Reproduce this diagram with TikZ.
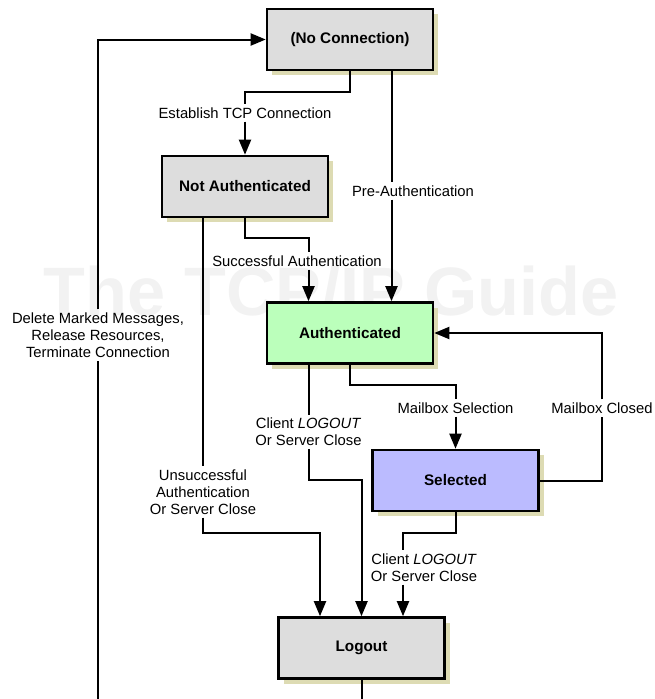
\documentclass[tikz,border=0pt]{standalone}
\usepackage{fontspec}
\setmainfont{Liberation Sans}
\usetikzlibrary{arrows.meta,shadows}
\definecolor{shc}{RGB}{221,219,179}
\definecolor{boxgray}{RGB}{221,221,221}
\definecolor{boxgreen}{RGB}{187,255,187}
\definecolor{boxblue}{RGB}{187,187,255}
\definecolor{wmc}{RGB}{242,242,242}
\tikzset{
  box/.style={draw=black, line width=2.6pt, minimum width=166pt, minimum height=61pt,
    font=\bfseries\fontsize{15.3}{18}\selectfont,
    general shadow={fill=shc, shadow xshift=5pt, shadow yshift=-5pt}},
  lbl/.style={font=\fontsize{14.8}{17}\selectfont, align=center, inner sep=3pt},
  conn/.style={draw=black, line width=2pt},
  arr/.style={conn, -{Triangle[length=15pt,width=12pt]}}
}
\begin{document}
\begin{tikzpicture}[x=1pt,y=-1pt]
\useasboundingbox (0,0) rectangle (654,699);
\clip (0,0) rectangle (654,699);
% watermark
\node[font=\bfseries\fontsize{68.5}{70}\selectfont, text=wmc, anchor=base, inner sep=0pt] (wm) at (331,315) {The TCP/IP Guide};
% boxes
\node[box, fill=boxgray]  (nc)   at (350,39.5)  {(No Connection)};
\node[box, fill=boxgray]  (na)   at (245,186.5) {Not Authenticated};
\node[box, fill=boxgreen] (auth) at (350,333)   {Authenticated};
\node[box, fill=boxblue]  (sel)  at (455.5,480.5) {Selected};
\node[box, fill=boxgray]  (lo)   at (361.5,648) {Logout};
% labels
\node[lbl] (est)  at (245,113)   {Establish TCP Connection};
\node[lbl] (pre)  at (413,191)   {Pre-Authentication};
\node[lbl] (succ) at (297,261)   {Successful Authentication};
\node[lbl] (uns)  at (203,492)   {Unsuccessful\\Authentication\\Or Server Close};
\node[lbl] (cl1)  at (308.5,432) {Client \textit{LOGOUT}\\Or Server Close};
\node[lbl] (msel) at (455.5,408) {Mailbox Selection};
\node[lbl] (mcl)  at (602,408)   {Mailbox Closed};
\node[lbl] (cl2)  at (424,567.5) {Client \textit{LOGOUT}\\Or Server Close};
\node[lbl] (del)  at (98,335)    {Delete Marked Messages,\\Release Resources,\\Terminate Connection};
% helper coordinates
\coordinate (b1) at (0,91.7);
\coordinate (b3) at (0,238);
\coordinate (b4) at (0,532.7);
\coordinate (b5) at (0,480);
\coordinate (b6) at (0,385);
\coordinate (bot) at (0,740);
\coordinate (px) at (391.5,0);
\coordinate (sx) at (308.5,0);
\coordinate (lx3) at (403,0);
% connectors
\draw[conn] (nc.south) -- (nc.south |- b1) -| (est.north);
\draw[arr] (est.south) -- (na.north);
\draw[conn] (nc.south -| px) -- (pre.north -| px);
\draw[arr] (pre.south -| px) -- (auth.north -| px);
\draw[conn] (na.south) -- (na.south |- b3) -| (succ.north -| sx);
\draw[arr] (succ.south -| sx) -- (auth.north -| sx);
\draw[conn] (na.south -| uns.north) -- (uns.north);
\draw[arr] (uns.south) -- (uns.south |- b4) -| ([xshift=-41.5pt]lo.north);
\draw[conn] (auth.south -| sx) -- (cl1.north);
\draw[arr] (cl1.south) -- (cl1.south |- b5) -| (lo.north);
\draw[conn] (auth.south) -- (auth.south |- b6) -| (msel.north);
\draw[arr] (msel.south) -- (sel.north);
\draw[conn] (sel.east) -| (mcl.south);
\draw[arr] (mcl.north) |- (auth.east);
\draw[conn] (sel.south) -- (sel.south |- b4) -| (cl2.north -| lx3);
\draw[arr] (cl2.south -| lx3) -- ([xshift=41.5pt]lo.north);
\draw[conn] (lo.south) -- (lo.south |- bot) -| (del.south);
\draw[arr] (del.north) |- (nc.west);
\end{tikzpicture}
\end{document}
